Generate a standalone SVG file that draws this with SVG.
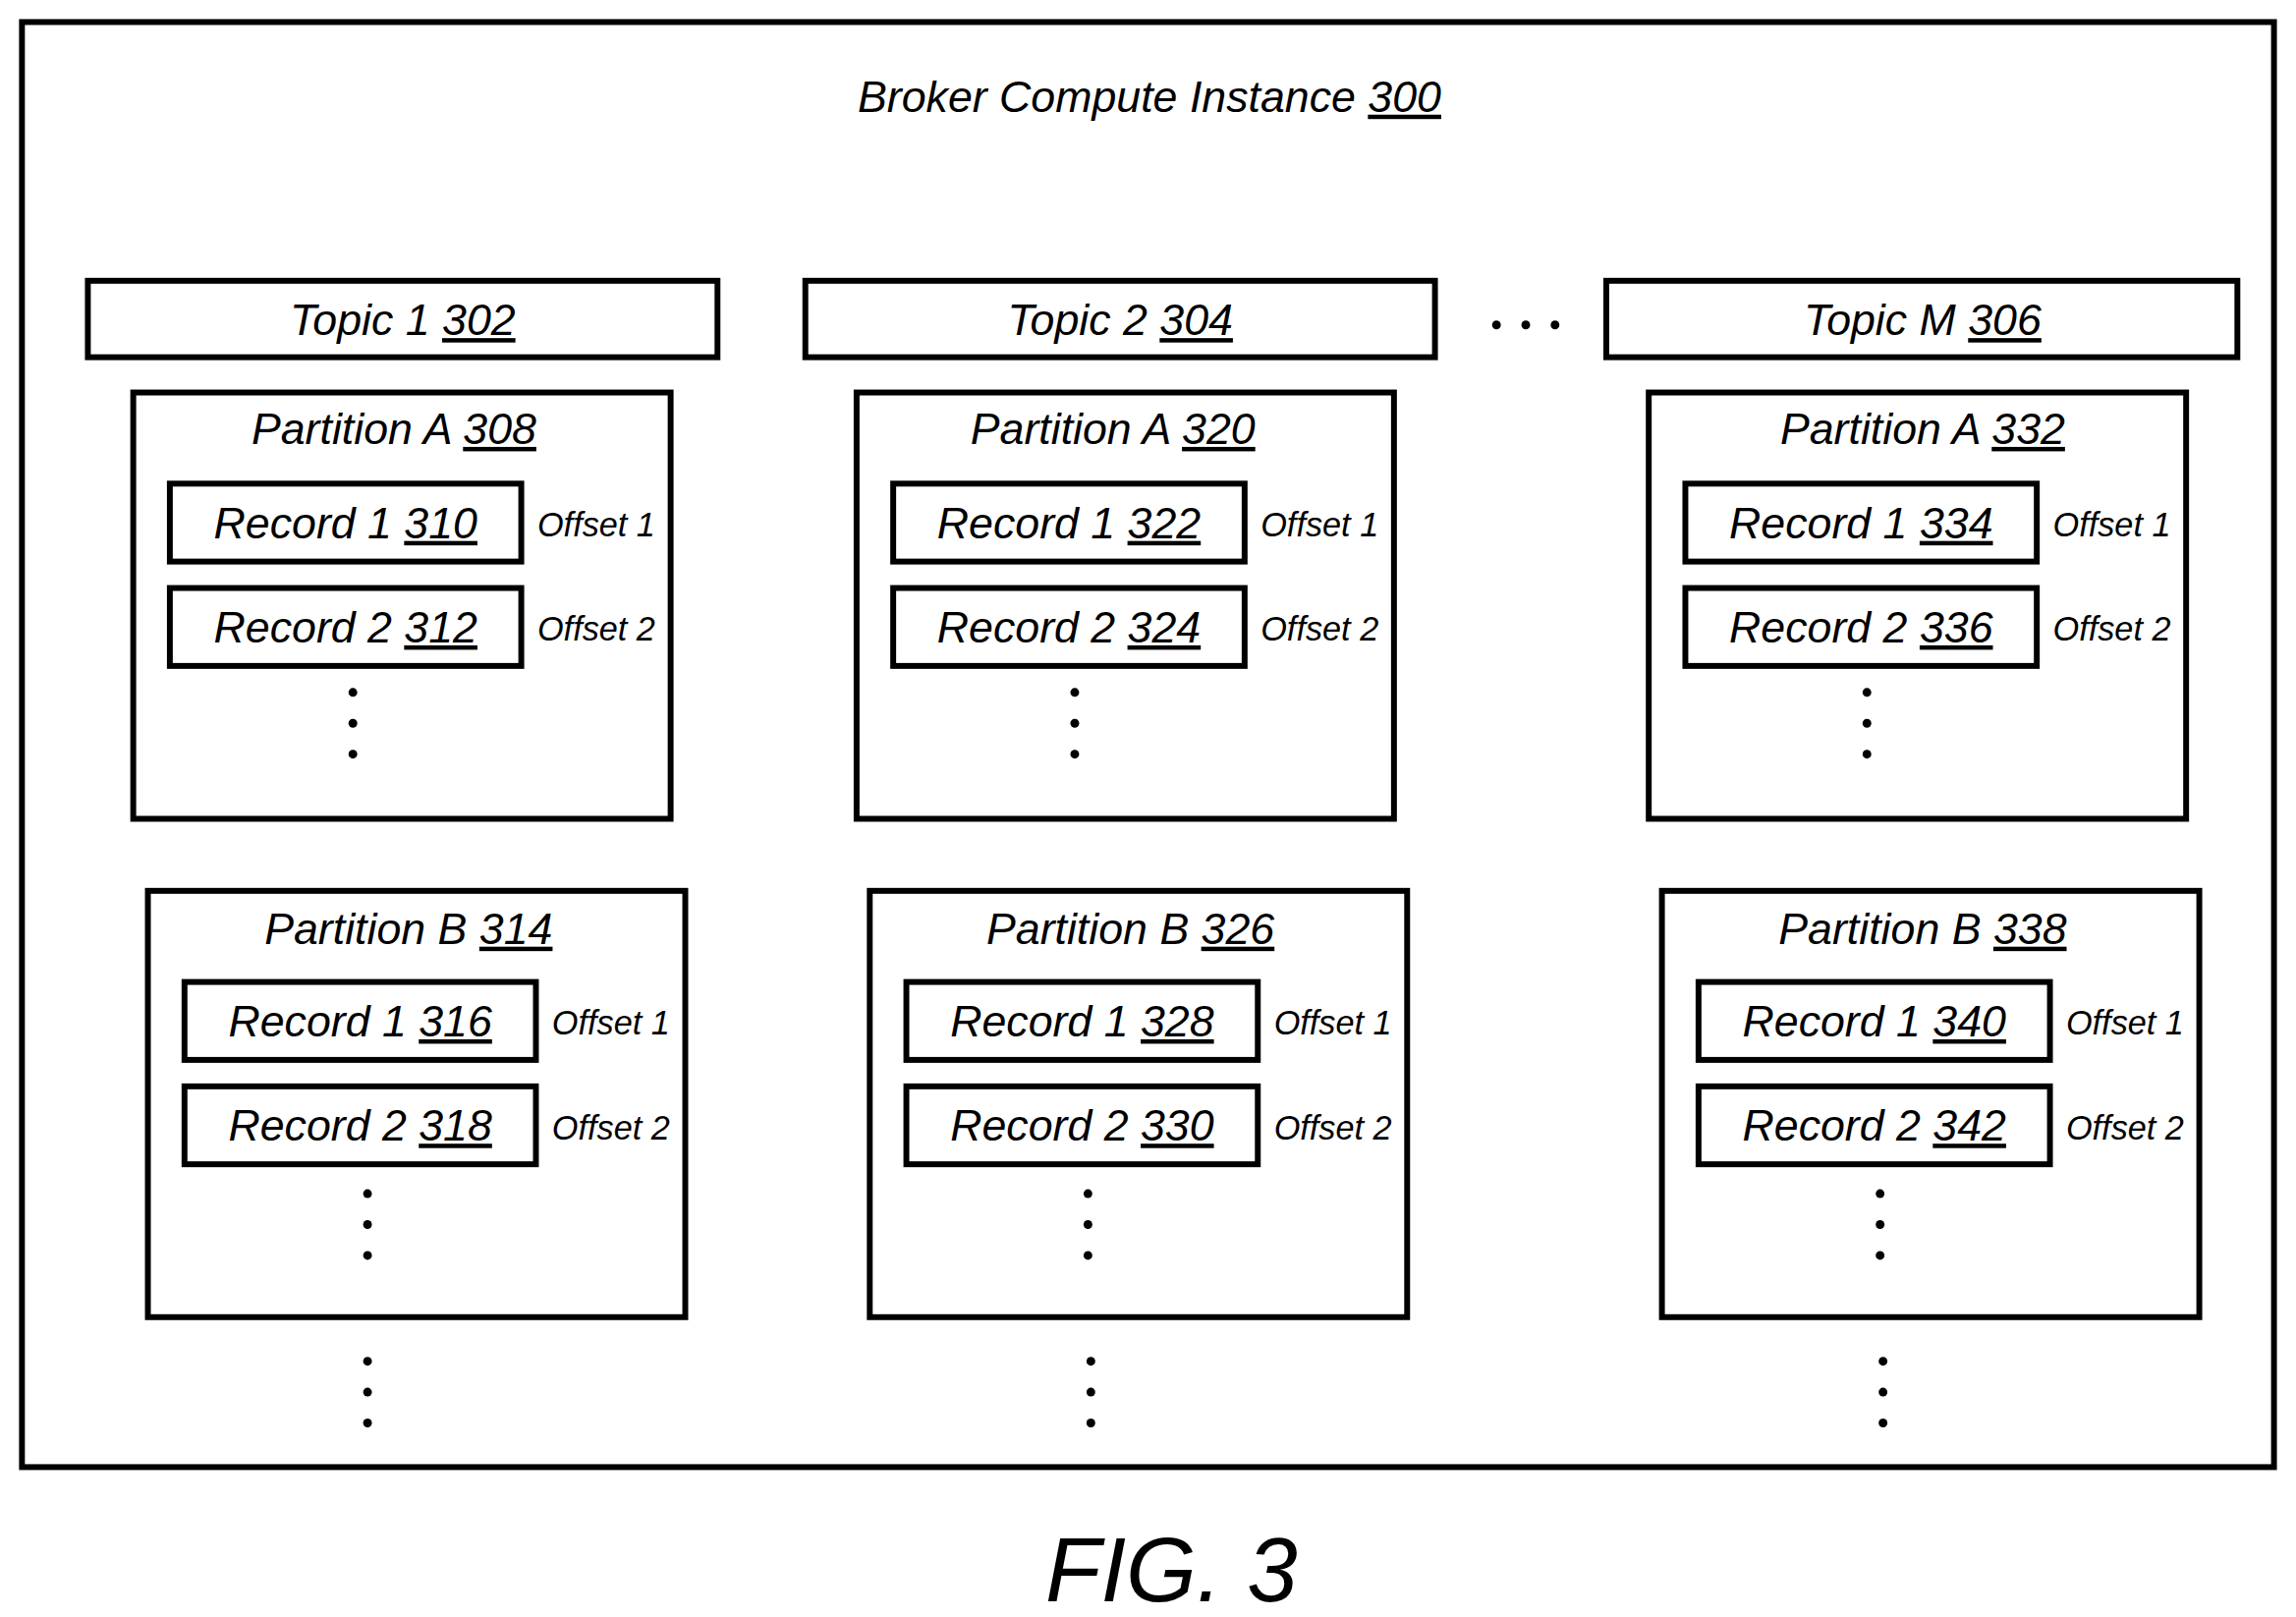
<svg xmlns="http://www.w3.org/2000/svg" width="2337" height="1646" viewBox="0 0 2337 1646">
<style>
rect{fill:#fff;stroke:#000;stroke-width:4}
text{font-family:"Liberation Sans",Arial,sans-serif;font-style:italic;text-anchor:middle;fill:#000}
.t{font-size:30px}.o{font-size:23px;text-anchor:start}
.u{text-decoration:underline}
circle{fill:#000}
</style>
<rect width="2337" height="1646" style="fill:#fff;stroke:none"/>
<g transform="scale(1.4904,1.4964)">
<g id="broker"><rect x="15" y="15" width="1538" height="983"/>
<text class="t" x="785" y="76">Broker Compute Instance <tspan class="u">300</tspan></text></g>
<g id="topic1"><rect x="60" y="191" width="430" height="52"/><text class="t" x="275" y="228">Topic 1 <tspan class="u">302</tspan></text></g>
<g id="topic2"><rect x="550" y="191" width="430" height="52"/><text class="t" x="765" y="228">Topic 2 <tspan class="u">304</tspan></text></g>
<g id="topicM"><rect x="1097" y="191" width="431" height="52"/><text class="t" x="1313" y="228">Topic M <tspan class="u">306</tspan></text></g>
<g id="ellipsis"><circle cx="1022" cy="221" r="3"/><circle cx="1042" cy="221" r="3"/><circle cx="1062" cy="221" r="3"/></g>
<defs>
<g id="dv"><circle cx="0" cy="0" r="3"/><circle cx="0" cy="21" r="3"/><circle cx="0" cy="42" r="3"/></g>
</defs>
<g id="pA308" transform="translate(91,267)"><rect width="367" height="290"/><text class="t" x="178" y="35">Partition A <tspan class="u">308</tspan></text>
<rect x="25" y="62" width="240" height="53"/><text class="t" x="145" y="99">Record 1 <tspan class="u">310</tspan></text><text class="o" x="276" y="98">Offset 1</text>
<rect x="25" y="133" width="240" height="53"/><text class="t" x="145" y="170">Record 2 <tspan class="u">312</tspan></text><text class="o" x="276" y="169">Offset 2</text>
<use href="#dv" x="150" y="204"/></g>
<g id="pA320" transform="translate(585,267)"><rect width="367" height="290"/><text class="t" x="175" y="35">Partition A <tspan class="u">320</tspan></text>
<rect x="25" y="62" width="240" height="53"/><text class="t" x="145" y="99">Record 1 <tspan class="u">322</tspan></text><text class="o" x="276" y="98">Offset 1</text>
<rect x="25" y="133" width="240" height="53"/><text class="t" x="145" y="170">Record 2 <tspan class="u">324</tspan></text><text class="o" x="276" y="169">Offset 2</text>
<use href="#dv" x="149" y="204"/></g>
<g id="pA332" transform="translate(1126,267)"><rect width="367" height="290"/><text class="t" x="187" y="35">Partition A <tspan class="u">332</tspan></text>
<rect x="25" y="62" width="240" height="53"/><text class="t" x="145" y="99">Record 1 <tspan class="u">334</tspan></text><text class="o" x="276" y="98">Offset 1</text>
<rect x="25" y="133" width="240" height="53"/><text class="t" x="145" y="170">Record 2 <tspan class="u">336</tspan></text><text class="o" x="276" y="169">Offset 2</text>
<use href="#dv" x="149" y="204"/></g>
<g id="pB314" transform="translate(101,606)"><rect width="367" height="290"/><text class="t" x="178" y="36">Partition B <tspan class="u">314</tspan></text>
<rect x="25" y="62" width="240" height="53"/><text class="t" x="145" y="99">Record 1 <tspan class="u">316</tspan></text><text class="o" x="276" y="98">Offset 1</text>
<rect x="25" y="133" width="240" height="53"/><text class="t" x="145" y="170">Record 2 <tspan class="u">318</tspan></text><text class="o" x="276" y="169">Offset 2</text>
<use href="#dv" x="150" y="206"/></g>
<g id="pB326" transform="translate(594,606)"><rect width="367" height="290"/><text class="t" x="178" y="36">Partition B <tspan class="u">326</tspan></text>
<rect x="25" y="62" width="240" height="53"/><text class="t" x="145" y="99">Record 1 <tspan class="u">328</tspan></text><text class="o" x="276" y="98">Offset 1</text>
<rect x="25" y="133" width="240" height="53"/><text class="t" x="145" y="170">Record 2 <tspan class="u">330</tspan></text><text class="o" x="276" y="169">Offset 2</text>
<use href="#dv" x="149" y="206"/></g>
<g id="pB338" transform="translate(1135,606)"><rect width="367" height="290"/><text class="t" x="178" y="36">Partition B <tspan class="u">338</tspan></text>
<rect x="25" y="62" width="240" height="53"/><text class="t" x="145" y="99">Record 1 <tspan class="u">340</tspan></text><text class="o" x="276" y="98">Offset 1</text>
<rect x="25" y="133" width="240" height="53"/><text class="t" x="145" y="170">Record 2 <tspan class="u">342</tspan></text><text class="o" x="276" y="169">Offset 2</text>
<use href="#dv" x="149" y="206"/></g>
<g id="more"><use href="#dv" x="251" y="926"/><use href="#dv" x="745" y="926"/><use href="#dv" x="1286" y="926"/></g>
<g id="connectors"/>
<text x="800" y="1089" style="font-size:62px">FIG. 3</text>
</g>
</svg>
